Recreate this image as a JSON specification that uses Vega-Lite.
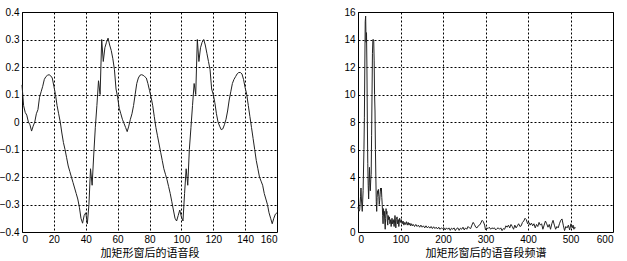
{
  "$schema": "https://vega.github.io/schema/vega-lite/v6.json",
  "background": "white",
  "padding": {"left": -2, "top": 6, "right": 5, "bottom": 2},
  "bounds": "flush",
  "spacing": 81,
  "config": {
    "view": {"stroke": "black", "strokeWidth": 1},
    "axis": {
      "domain": false,
      "grid": true,
      "gridColor": "black",
      "gridDash": [2, 2],
      "gridOpacity": 1,
      "gridWidth": 1,
      "ticks": false,
      "labelFont": "Liberation Sans",
      "labelFontSize": 10,
      "labelColor": "black",
      "labelPadding": 3,
      "titleFont": "Noto Sans CJK SC",
      "titleFontSize": 11,
      "titleFontWeight": "normal",
      "titleColor": "black",
      "titlePadding": 3
    },
    "axisX": {"labelPadding": 2}
  },
  "datasets": {
    "wave": [
      {"n":0,"v":0.135},{"n":1,"v":0.06},{"n":2,"v":0.035},{"n":3,"v":0.025},{"n":4,"v":0.0},{"n":5,"v":-0.01},{"n":6,"v":-0.033},{"n":7,"v":-0.015},{"n":8,"v":0.0},{"n":9,"v":0.03},
      {"n":10,"v":0.045},{"n":11,"v":0.09},{"n":12,"v":0.11},{"n":13,"v":0.13},{"n":14,"v":0.155},{"n":15,"v":0.165},{"n":16,"v":0.17},{"n":17,"v":0.172},{"n":18,"v":0.168},{"n":19,"v":0.16},
      {"n":20,"v":0.13},{"n":21,"v":0.1},{"n":22,"v":0.06},{"n":23,"v":0.03},{"n":24,"v":0.0},{"n":25,"v":-0.04},{"n":26,"v":-0.075},{"n":27,"v":-0.1},{"n":28,"v":-0.13},{"n":29,"v":-0.16},
      {"n":30,"v":-0.18},{"n":31,"v":-0.2},{"n":32,"v":-0.22},{"n":33,"v":-0.24},{"n":34,"v":-0.26},{"n":35,"v":-0.28},{"n":36,"v":-0.31},{"n":37,"v":-0.35},{"n":38,"v":-0.368},{"n":39,"v":-0.34},
      {"n":40,"v":-0.33},{"n":41,"v":-0.37},{"n":42,"v":-0.3},{"n":43,"v":-0.17},{"n":44,"v":-0.23},{"n":45,"v":-0.12},{"n":46,"v":-0.02},{"n":47,"v":0.06},{"n":48,"v":0.15},{"n":49,"v":0.1},
      {"n":50,"v":0.3},{"n":51,"v":0.22},{"n":52,"v":0.27},{"n":53,"v":0.29},{"n":54,"v":0.305},{"n":55,"v":0.28},{"n":56,"v":0.26},{"n":57,"v":0.23},{"n":58,"v":0.19},{"n":59,"v":0.12},
      {"n":60,"v":0.09},{"n":61,"v":0.05},{"n":62,"v":0.03},{"n":63,"v":0.01},{"n":64,"v":-0.005},{"n":65,"v":-0.02},{"n":66,"v":-0.035},{"n":67,"v":-0.015},{"n":68,"v":0.01},{"n":69,"v":0.03},
      {"n":70,"v":0.06},{"n":71,"v":0.1},{"n":72,"v":0.14},{"n":73,"v":0.16},{"n":74,"v":0.17},{"n":75,"v":0.172},{"n":76,"v":0.17},{"n":77,"v":0.165},{"n":78,"v":0.16},{"n":79,"v":0.14},
      {"n":80,"v":0.115},{"n":81,"v":0.09},{"n":82,"v":0.06},{"n":83,"v":0.02},{"n":84,"v":-0.02},{"n":85,"v":-0.05},{"n":86,"v":-0.08},{"n":87,"v":-0.11},{"n":88,"v":-0.14},{"n":89,"v":-0.17},
      {"n":90,"v":-0.19},{"n":91,"v":-0.21},{"n":92,"v":-0.235},{"n":93,"v":-0.26},{"n":94,"v":-0.29},{"n":95,"v":-0.32},{"n":96,"v":-0.35},{"n":97,"v":-0.36},{"n":98,"v":-0.34},{"n":99,"v":-0.32},
      {"n":100,"v":-0.345},{"n":101,"v":-0.36},{"n":102,"v":-0.26},{"n":103,"v":-0.17},{"n":104,"v":-0.23},{"n":105,"v":-0.1},{"n":106,"v":-0.02},{"n":107,"v":0.06},{"n":108,"v":0.14},{"n":109,"v":0.1},
      {"n":110,"v":0.3},{"n":111,"v":0.22},{"n":112,"v":0.27},{"n":113,"v":0.29},{"n":114,"v":0.3},{"n":115,"v":0.28},{"n":116,"v":0.25},{"n":117,"v":0.22},{"n":118,"v":0.19},{"n":119,"v":0.12},
      {"n":120,"v":0.1},{"n":121,"v":0.07},{"n":122,"v":0.03},{"n":123,"v":0.0},{"n":124,"v":-0.015},{"n":125,"v":-0.028},{"n":126,"v":-0.025},{"n":127,"v":-0.01},{"n":128,"v":0.01},{"n":129,"v":0.04},
      {"n":130,"v":0.08},{"n":131,"v":0.11},{"n":132,"v":0.14},{"n":133,"v":0.155},{"n":134,"v":0.165},{"n":135,"v":0.175},{"n":136,"v":0.18},{"n":137,"v":0.18},{"n":138,"v":0.175},{"n":139,"v":0.155},
      {"n":140,"v":0.125},{"n":141,"v":0.1},{"n":142,"v":0.06},{"n":143,"v":0.02},{"n":144,"v":-0.02},{"n":145,"v":-0.06},{"n":146,"v":-0.1},{"n":147,"v":-0.14},{"n":148,"v":-0.17},{"n":149,"v":-0.2},
      {"n":150,"v":-0.215},{"n":151,"v":-0.23},{"n":152,"v":-0.26},{"n":153,"v":-0.28},{"n":154,"v":-0.3},{"n":155,"v":-0.33},{"n":156,"v":-0.35},{"n":157,"v":-0.37},{"n":158,"v":-0.35},{"n":159,"v":-0.335},
      {"n":160,"v":-0.33}
    ],
    "spec": [
      {"f":0,"a":1.8},{"f":2,"a":1.5},{"f":4,"a":1.6},{"f":6,"a":2.6},{"f":7,"a":3.2},{"f":8,"a":2.4},{"f":10,"a":1.5},{"f":12,"a":3.0},{"f":14,"a":6},{"f":15,"a":8.3},
      {"f":16,"a":12},{"f":17,"a":15.3},{"f":18,"a":15.7},{"f":19,"a":13.8},{"f":20,"a":14.5},{"f":21,"a":12},{"f":22,"a":8},{"f":23,"a":5},{"f":24,"a":3.4},{"f":25,"a":2.4},
      {"f":26,"a":3.5},{"f":27,"a":4.7},{"f":28,"a":3.6},{"f":29,"a":3.0},{"f":30,"a":3.8},{"f":31,"a":4.2},{"f":32,"a":7},{"f":33,"a":10},{"f":34,"a":13},{"f":35,"a":14},
      {"f":36,"a":14},{"f":37,"a":13.9},{"f":38,"a":12.5},{"f":39,"a":10},{"f":40,"a":8.8},{"f":41,"a":6},{"f":42,"a":4},{"f":43,"a":2.2},{"f":44,"a":1.5},{"f":45,"a":2.5},
      {"f":46,"a":3.0},{"f":47,"a":2.8},{"f":48,"a":3.1},{"f":49,"a":2.6},{"f":50,"a":2.0},{"f":51,"a":2.3},{"f":52,"a":2.7},{"f":53,"a":3.2},{"f":54,"a":3.0},{"f":55,"a":3.2},
      {"f":56,"a":2.5},{"f":57,"a":2.0},{"f":58,"a":1.2},{"f":59,"a":0.6},{"f":60,"a":1.7},{"f":61,"a":1.2},{"f":62,"a":1.5},{"f":63,"a":0.8},{"f":64,"a":0.2},{"f":65,"a":1.0},
      {"f":66,"a":1.7},{"f":67,"a":1.3},{"f":68,"a":1.5},{"f":69,"a":0.8},{"f":70,"a":0.5},{"f":71,"a":1.2},{"f":72,"a":0.9},{"f":74,"a":1.1},{"f":75,"a":0.6},{"f":77,"a":0.9},
      {"f":78,"a":0.4},{"f":80,"a":1.0},{"f":81,"a":0.6},{"f":83,"a":0.9},{"f":85,"a":0.4},{"f":87,"a":1.2},{"f":88,"a":0.8},{"f":89,"a":0.3},{"f":90,"a":0.9},{"f":92,"a":1.1},
      {"f":93,"a":0.6},{"f":95,"a":0.9},{"f":96,"a":0.4},{"f":98,"a":1.0},{"f":100,"a":0.7},{"f":102,"a":0.9},{"f":104,"a":0.6},{"f":106,"a":0.8},{"f":108,"a":0.5},{"f":110,"a":0.7},
      {"f":112,"a":0.55},{"f":114,"a":0.75},{"f":116,"a":0.5},{"f":118,"a":0.7},{"f":120,"a":0.5},{"f":122,"a":0.65},{"f":124,"a":0.45},{"f":126,"a":0.6},{"f":128,"a":0.45},{"f":130,"a":0.55},
      {"f":133,"a":0.4},{"f":136,"a":0.55},{"f":139,"a":0.4},{"f":142,"a":0.5},{"f":145,"a":0.35},{"f":148,"a":0.5},{"f":151,"a":0.35},{"f":154,"a":0.45},{"f":157,"a":0.3},{"f":160,"a":0.45},
      {"f":163,"a":0.3},{"f":166,"a":0.4},{"f":169,"a":0.28},{"f":172,"a":0.4},{"f":175,"a":0.25},{"f":178,"a":0.38},{"f":181,"a":0.25},{"f":184,"a":0.35},{"f":187,"a":0.22},{"f":190,"a":0.35},
      {"f":193,"a":0.2},{"f":196,"a":0.3},{"f":199,"a":0.25},{"f":202,"a":0.32},{"f":205,"a":0.15},{"f":208,"a":0.3},{"f":211,"a":0.2},{"f":214,"a":0.3},{"f":217,"a":0.12},{"f":220,"a":0.28},
      {"f":223,"a":0.2},{"f":226,"a":0.3},{"f":229,"a":0.1},{"f":232,"a":0.25},{"f":235,"a":0.3},{"f":238,"a":0.12},{"f":241,"a":0.28},{"f":244,"a":0.2},{"f":247,"a":0.35},{"f":250,"a":0.15},
      {"f":253,"a":0.3},{"f":256,"a":0.2},{"f":259,"a":0.4},{"f":262,"a":0.3},{"f":265,"a":0.25},{"f":268,"a":0.5},{"f":271,"a":0.7},{"f":274,"a":0.55},{"f":277,"a":0.35},{"f":280,"a":0.3},
      {"f":283,"a":0.45},{"f":286,"a":0.5},{"f":289,"a":0.65},{"f":292,"a":0.85},{"f":295,"a":0.75},{"f":298,"a":0.5},{"f":300,"a":0.15},{"f":303,"a":0.3},{"f":306,"a":0.25},{"f":309,"a":0.35},
      {"f":312,"a":0.2},{"f":315,"a":0.3},{"f":318,"a":0.25},{"f":321,"a":0.3},{"f":324,"a":0.15},{"f":327,"a":0.25},{"f":330,"a":0.3},{"f":333,"a":0.2},{"f":336,"a":0.3},{"f":339,"a":0.1},
      {"f":342,"a":0.25},{"f":345,"a":0.2},{"f":348,"a":0.45},{"f":351,"a":0.35},{"f":354,"a":0.5},{"f":357,"a":0.3},{"f":360,"a":0.55},{"f":363,"a":0.4},{"f":366,"a":0.2},{"f":369,"a":0.5},
      {"f":372,"a":0.3},{"f":375,"a":0.45},{"f":378,"a":0.6},{"f":381,"a":0.4},{"f":384,"a":0.45},{"f":387,"a":0.7},{"f":390,"a":0.8},{"f":393,"a":1.0},{"f":396,"a":0.9},{"f":399,"a":0.6},
      {"f":402,"a":0.7},{"f":405,"a":0.5},{"f":408,"a":0.65},{"f":411,"a":0.45},{"f":414,"a":0.6},{"f":417,"a":0.3},{"f":420,"a":0.55},{"f":423,"a":0.4},{"f":426,"a":0.7},{"f":429,"a":0.5},
      {"f":432,"a":0.6},{"f":435,"a":0.2},{"f":438,"a":0.5},{"f":441,"a":0.8},{"f":444,"a":0.6},{"f":447,"a":0.35},{"f":450,"a":0.55},{"f":453,"a":0.2},{"f":456,"a":0.6},{"f":459,"a":0.85},
      {"f":462,"a":0.5},{"f":465,"a":0.2},{"f":468,"a":0.4},{"f":471,"a":0.3},{"f":474,"a":0.6},{"f":477,"a":0.85},{"f":480,"a":0.95},{"f":483,"a":0.5},{"f":486,"a":0.1},{"f":489,"a":0.4},
      {"f":492,"a":0.3},{"f":495,"a":0.5},{"f":498,"a":0.15},{"f":501,"a":0.6},{"f":504,"a":0.3},{"f":506,"a":0.5},{"f":508,"a":0.2},{"f":510,"a":0.35},{"f":512,"a":0.3}
    ]
  },
  "hconcat": [
    {
      "width": 255,
      "height": 220,
      "data": {"name": "wave"},
      "mark": {"type": "line", "color": "#222222", "strokeWidth": 1},
      "encoding": {
        "x": {"field": "n", "type": "quantitative", "title": "加矩形窗后的语音段",
              "scale": {"domain": [0, 160], "nice": false},
              "axis": {"values": [0,20,40,60,80,100,120,140,160]}},
        "y": {"field": "v", "type": "quantitative", "title": null,
              "scale": {"domain": [-0.4, 0.4], "nice": false},
              "axis": {"values": [-0.4,-0.3,-0.2,-0.1,0,0.1,0.2,0.3,0.4], "labelExpr": "datum.value == 0 ? '0' : format(datum.value, '.1f')"}}
      }
    },
    {
      "width": 255,
      "height": 220,
      "data": {"name": "spec"},
      "mark": {"type": "line", "color": "#222222", "strokeWidth": 1},
      "encoding": {
        "x": {"field": "f", "type": "quantitative", "title": "加矩形窗后的语音段频谱",
              "scale": {"domain": [0, 600], "nice": false},
              "axis": {"values": [0,100,200,300,400,500,600]}},
        "y": {"field": "a", "type": "quantitative", "title": null,
              "scale": {"domain": [0, 16], "nice": false},
              "axis": {"values": [0,2,4,6,8,10,12,14,16]}}
      }
    }
  ]
}
